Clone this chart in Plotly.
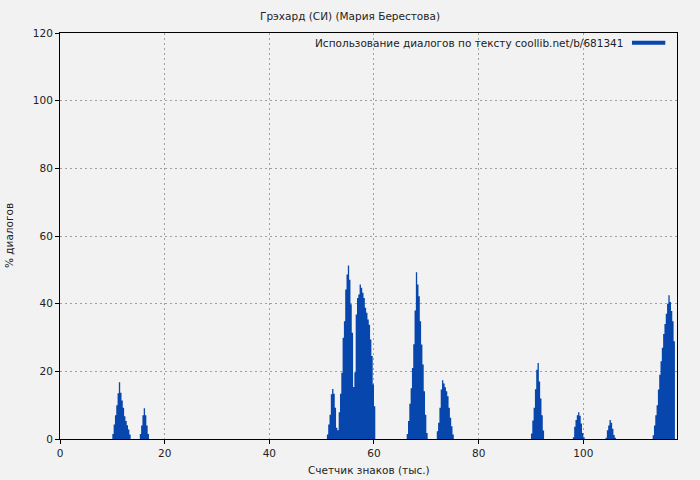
import numpy as np
import plotly.graph_objects as go

# ширина одного столбца, тыс. знаков
STEP = 0.25

# начало каждого участка с ненулевыми значениями (тыс. знаков)
seg_starts = [10.0, 15.25, 51.0, 66.25, 72.0, 90.0, 98.0, 104.25, 113.25]

# % диалогов по участкам
seg_1 = [1.5, 4.3, 7.0, 10.0, 13.5, 16.8, 13.7, 11.4, 9.2, 6.7, 5.3, 4.1, 2.8, 1.3]
seg_2 = [1.5, 4.0, 7.0, 9.1, 7.0, 4.0, 1.5]
seg_3 = [1.3, 4.3, 7.2, 13.2, 14.8, 13.4, 9.2, 3.3, 2.6, 7.9, 13.4, 19.6, 29.9,
         34.8, 44.2, 48.6, 51.3, 47.1, 39.8, 31.4, 15.4, 19.7, 36.8, 41.7, 42.7,
         45.7, 44.7, 43.2, 41.7, 38.8, 37.3, 35.3, 33.8, 29.4, 24.5, 16.1, 9.7]
seg_4 = [1.5, 5.3, 10.4, 15.0, 21.0, 28.0, 38.0, 49.3, 45.7, 42.2, 34.8, 27.9,
         22.0, 14.1, 7.2, 1.8]
seg_5 = [2.3, 4.8, 9.2, 14.6, 17.4, 16.4, 15.3, 14.1, 12.6, 9.2, 6.3, 3.8, 1.3]
seg_6 = [1.6, 5.5, 9.2, 14.7, 20.5, 22.5, 17.0, 12.0, 7.0, 2.5]
seg_7 = [0.5, 3.6, 5.6, 7.0, 7.9, 6.9, 4.6, 1.8, 0.5]
seg_8 = [0.4, 2.6, 4.0, 5.6, 4.8, 3.0, 1.2, 0.4]
seg_9 = [1.1, 4.0, 7.0, 10.0, 14.6, 19.0, 23.0, 27.0, 31.0, 34.0, 37.0, 40.0,
         42.5, 40.5, 37.8, 34.8, 28.9]

segments = [seg_1, seg_2, seg_3, seg_4, seg_5, seg_6, seg_7, seg_8, seg_9]

BAR_COLOR = "#0646ad"
BG = "#f2f2f2"
FONT = "DejaVu Sans"
FS = 10.5

fig = go.Figure()

# каждый участок — ступенчатая заливка (как столбцы gnuplot, без просветов)
for start, seg in zip(seg_starts, segments):
    xs = start + STEP * np.arange(len(seg) + 1)
    ys = list(seg) + [seg[-1]]
    fig.add_trace(
        go.Scatter(
            x=xs,
            y=ys,
            mode="lines",
            line=dict(shape="hv", width=0, color=BAR_COLOR),
            fill="tozeroy",
            fillcolor=BAR_COLOR,
            showlegend=False,
            hoverinfo="skip",
        )
    )

axis_common = dict(
    showline=True,
    linecolor="black",
    linewidth=1,
    mirror=True,
    ticks="outside",
    ticklen=4,
    tickcolor="black",
    showgrid=True,
    gridcolor="#a0a0a0",
    gridwidth=1,
    griddash="2px,3px",
    zeroline=False,
    automargin=False,
    tickfont=dict(size=FS, color="#222222"),
)

fig.update_layout(
    width=700,
    height=480,
    paper_bgcolor=BG,
    plot_bgcolor=BG,
    font=dict(family=FONT, size=FS, color="#222222"),
    margin=dict(l=60, r=23, t=33, b=41),
    title=dict(
        text="Грэхард (СИ) (Мария Берестова)",
        x=0.5,
        xanchor="center",
        y=1 - 16 / 480,
        yanchor="middle",
        font=dict(size=FS),
    ),
    xaxis=dict(range=[0, 117.9], dtick=20, **axis_common),
    yaxis=dict(range=[0, 120], dtick=20, **axis_common),
)

# подписи осей
fig.add_annotation(
    text="Счетчик знаков (тыс.)",
    xref="paper", yref="paper", x=0.5, y=0,
    xanchor="center", yanchor="middle", yshift=-31,
    showarrow=False, font=dict(size=FS),
)
fig.add_annotation(
    text="% диалогов",
    xref="paper", yref="paper", x=0, y=0.5,
    xanchor="center", yanchor="middle", xshift=-51,
    textangle=-90, showarrow=False, font=dict(size=FS),
)

# легенда в стиле gnuplot: текст слева от образца линии
fig.add_annotation(
    text="Использование диалогов по тексту coollib.net/b/681341",
    xref="paper", yref="paper", x=0.9157, y=0.976,
    xanchor="right", yanchor="middle",
    showarrow=False, font=dict(size=FS),
)
fig.add_shape(
    type="line",
    xref="paper", yref="paper",
    x0=0.927, x1=0.981, y0=0.976, y1=0.976,
    line=dict(color=BAR_COLOR, width=4),
)

fig.write_html(
    "out.html",
    config={"displayModeBar": False},
    post_script="document.body.style.margin='0';document.body.style.background='%s';" % BG,
)
